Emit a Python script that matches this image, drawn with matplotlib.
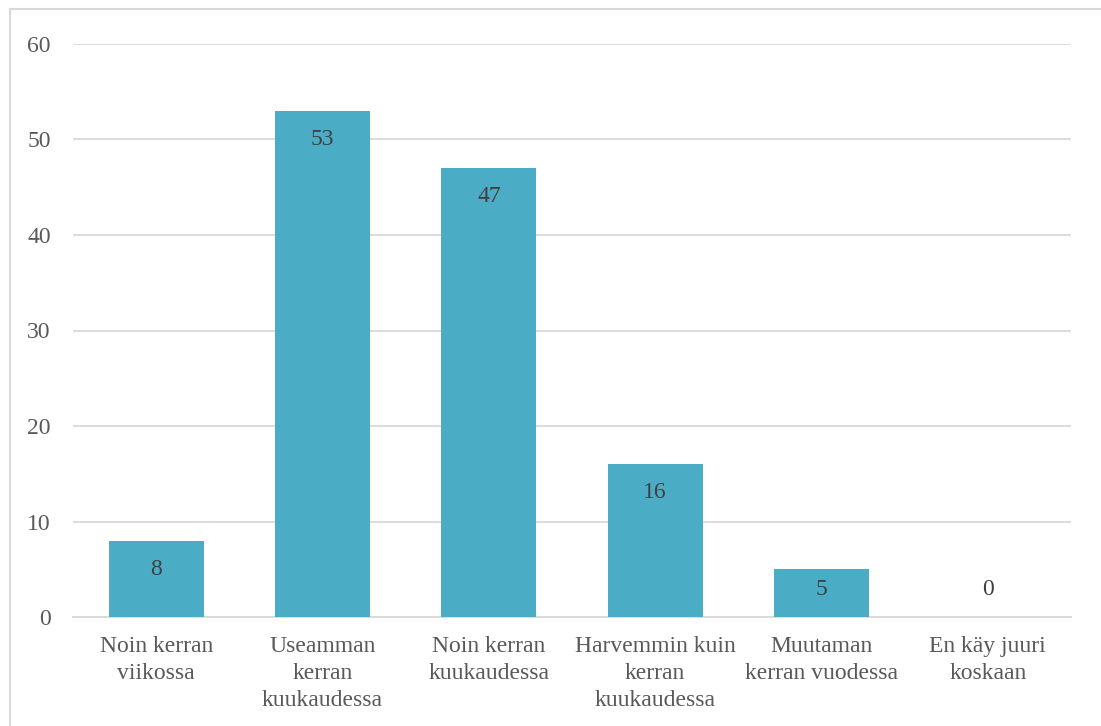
import matplotlib.pyplot as plt
from matplotlib.lines import Line2D

categories = [
    "Noin kerran\nviikossa",
    "Useamman\nkerran\nkuukaudessa",
    "Noin kerran\nkuukaudessa",
    "Harvemmin kuin\nkerran\nkuukaudessa",
    "Muutaman\nkerran vuodessa",
    "En käy juuri\nkoskaan",
]
counts = [8, 53, 47, 16, 5, 0]
yticks = [0, 10, 20, 30, 40, 50, 60]

BAR_COLOR = "#4BACC6"
GRID_COLOR = "#D9D9D9"
TEXT_COLOR = "#595959"

plt.rcParams["font.family"] = ["Liberation Serif", "DejaVu Serif"]

fig = plt.figure(figsize=(11.01, 7.26), dpi=100)
ax = fig.add_axes([73 / 1101, 1 - 617 / 726, 998 / 1101, 573 / 726])

x = range(len(counts))
bars = ax.bar(x, counts, width=0.57, color=BAR_COLOR, zorder=3)

# value labels sit inside the bar top, but never below a minimum height
for rect, v in zip(bars, counts):
    ax.text(rect.get_x() + rect.get_width() / 2, max(v - 3.0, 2.9), str(v),
            ha="center", va="center", fontsize=17, color="#404040", zorder=4)

ax.set_xlim(-0.5, len(counts) - 0.5)
ax.set_ylim(0, 60)
ax.set_yticks(yticks)
ax.set_xticks(list(x))
ax.set_xticklabels(categories, fontsize=17, color=TEXT_COLOR, linespacing=1.35)
ax.tick_params(axis="y", labelsize=17, labelcolor=TEXT_COLOR, length=0, pad=16)
ax.tick_params(axis="x", length=0, pad=14)
ax.yaxis.grid(True, color=GRID_COLOR, linewidth=1.3, zorder=0)
for s in ["top", "right", "left"]:
    ax.spines[s].set_visible(False)
ax.spines["bottom"].set_color(GRID_COLOR)
ax.spines["bottom"].set_linewidth(1.3)

# thin frame around the chart area (left and top edges)
fig.add_artist(Line2D([10 / 1101, 10 / 1101], [0, 1 - 9 / 726],
                      transform=fig.transFigure, color=GRID_COLOR, linewidth=1.5))
fig.add_artist(Line2D([10 / 1101, 1], [1 - 9 / 726, 1 - 9 / 726],
                      transform=fig.transFigure, color=GRID_COLOR, linewidth=1.5))

fig.savefig("out.png", dpi=100)
